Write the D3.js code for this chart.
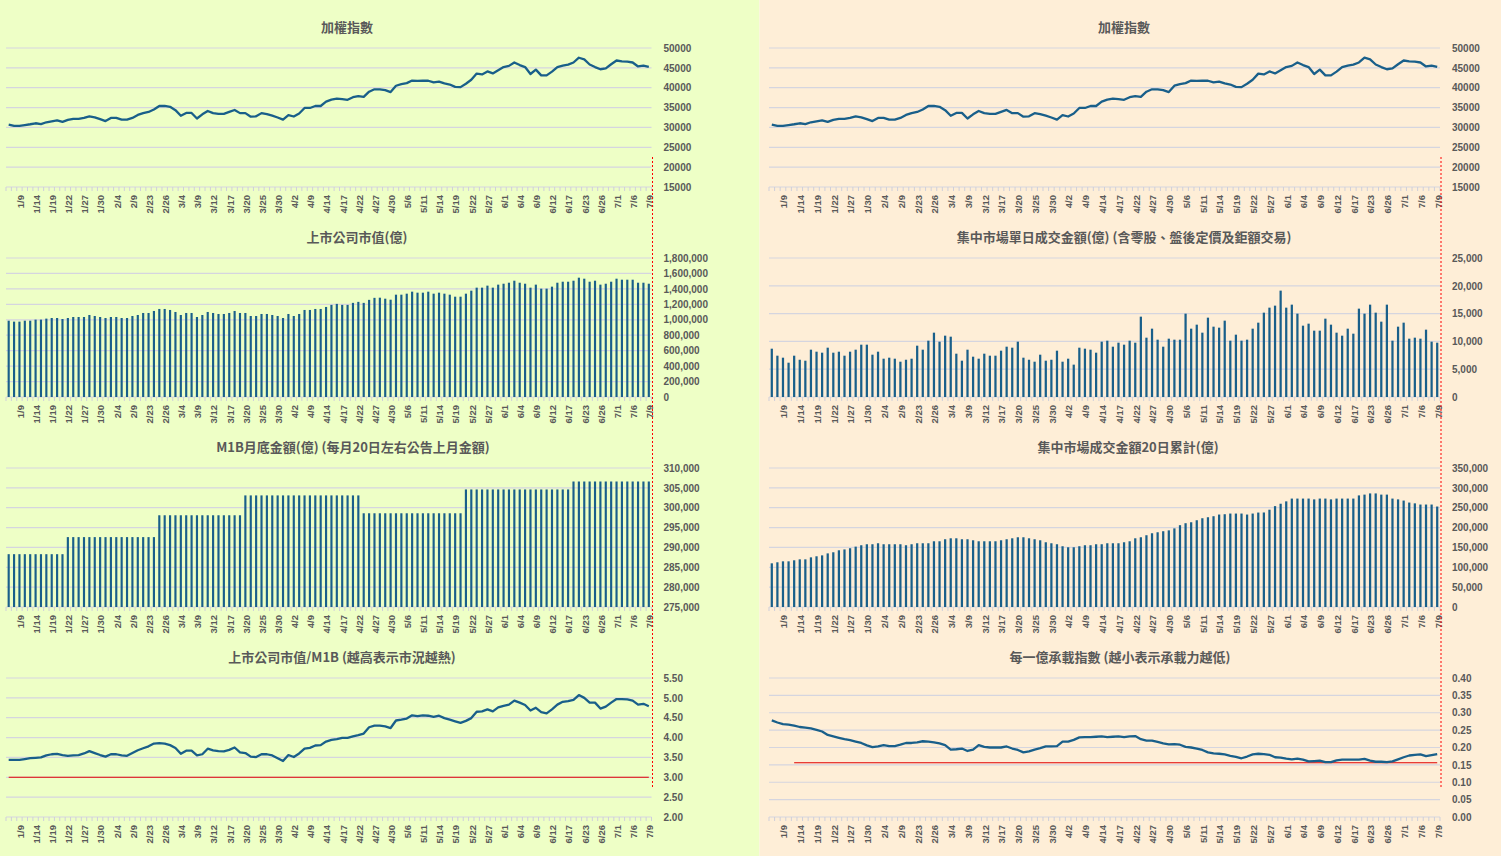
<!DOCTYPE html>
<html><head><meta charset="utf-8">
<script src="https://cdn.jsdelivr.net/npm/d3@7"></script>
<style>body{margin:0;overflow:hidden} svg{display:block}</style>
</head><body><svg id="c" width="1501" height="856"></svg>
<script>
const categories = ["1/7","1/8","1/9","1/12","1/13","1/14","1/15","1/16","1/19","1/20",
"1/21","1/22","1/23","1/26","1/27","1/28","1/29","1/30","2/2","2/3",
"2/4","2/5","2/6","2/9","2/10","2/11","2/23","2/24","2/25","2/26",
"3/2","3/3","3/4","3/5","3/6","3/9","3/10","3/11","3/12","3/13",
"3/16","3/17","3/18","3/19","3/20","3/23","3/24","3/25","3/26","3/27",
"3/30","3/31","4/1","4/2","4/7","4/8","4/9","4/10","4/13","4/14",
"4/15","4/16","4/17","4/20","4/21","4/22","4/23","4/24","4/27","4/28",
"4/29","4/30","5/4","5/5","5/6","5/7","5/8","5/11","5/12","5/13",
"5/14","5/15","5/18","5/19","5/20","5/21","5/22","5/25","5/26","5/27",
"5/28","5/29","6/1","6/2","6/3","6/4","6/5","6/8","6/9","6/10",
"6/11","6/12","6/15","6/16","6/17","6/18","6/22","6/23","6/24","6/25",
"6/26","6/29","6/30","7/1","7/2","7/3","7/6","7/7","7/8","7/9"];

// 加權指數
const taiex = [30700,30400,30400,30600,30800,31050,30850,31300,31550,31800,
31400,31900,32150,32150,32400,32800,32550,32100,31600,32400,
32400,31950,31950,32400,33150,33600,33900,34500,35400,35400,
35200,34350,32950,33650,33650,32250,33300,34150,33600,33400,
33400,33900,34400,33600,33600,32700,32800,33600,33350,32950,
32500,31950,33100,32750,33500,34900,34900,35400,35400,36500,
37000,37250,37100,36950,37600,37900,37700,39000,39600,39600,
39400,38900,40500,40900,41150,41800,41700,41800,41750,41350,
41550,41100,40800,40200,40150,41000,42000,43550,43350,44100,
43600,44400,45200,45500,46350,45700,45200,43450,44550,43100,
43100,44050,45200,45550,45800,46350,47550,47150,45850,45200,
44650,44850,45900,46850,46650,46550,46350,45350,45550,45250];

// 上市公司市值(億)
const marketCap = [988000,976000,976000,988000,988000,1002000,1002000,1015000,1023000,1023000,
1010000,1023000,1036000,1036000,1036000,1062000,1049000,1036000,1023000,1036000,
1036000,1023000,1023000,1049000,1062000,1088000,1088000,1114000,1140000,1140000,
1127000,1101000,1062000,1088000,1088000,1036000,1062000,1101000,1088000,1075000,
1075000,1088000,1114000,1088000,1088000,1049000,1049000,1075000,1075000,1062000,
1049000,1023000,1075000,1049000,1075000,1127000,1127000,1140000,1140000,1166000,
1193000,1206000,1193000,1193000,1219000,1232000,1219000,1258000,1284000,1286000,
1273000,1260000,1325000,1325000,1338000,1364000,1351000,1351000,1364000,1338000,
1351000,1338000,1325000,1299000,1299000,1338000,1377000,1416000,1416000,1442000,
1416000,1455000,1467000,1480000,1506000,1480000,1467000,1416000,1455000,1403000,
1403000,1429000,1480000,1493000,1493000,1506000,1545000,1532000,1493000,1506000,
1455000,1467000,1493000,1532000,1519000,1519000,1519000,1480000,1480000,1467000];

// M1B月底金額(億)
const m1b = [288300,288300,288300,288300,288300,288300,288300,288300,288300,288300,
288300,292600,292600,292600,292600,292600,292600,292600,292600,292600,
292600,292600,292600,292600,292600,292600,292600,292600,298100,298100,
298100,298100,298100,298100,298100,298100,298100,298100,298100,298100,
298100,298100,298100,298100,303100,303100,303100,303100,303100,303100,
303100,303100,303100,303100,303100,303100,303100,303100,303100,303100,
303100,303100,303100,303100,303100,303100,298600,298600,298600,298600,
298600,298600,298600,298600,298600,298600,298600,298600,298600,298600,
298600,298600,298600,298600,298600,304600,304600,304600,304600,304600,
304600,304600,304600,304600,304600,304600,304600,304600,304600,304600,
304600,304600,304600,304600,304600,306600,306600,306600,306600,306600,
306600,306600,306600,306600,306600,306600,306600,306600,306600,306600];

// 上市公司市值/M1B
const capM1bRatio = [3.44,3.44,3.44,3.46,3.48,3.49,3.50,3.55,3.58,3.59,
3.56,3.54,3.55,3.56,3.60,3.66,3.61,3.56,3.52,3.58,
3.58,3.55,3.54,3.61,3.68,3.73,3.78,3.85,3.86,3.85,
3.81,3.74,3.59,3.67,3.67,3.55,3.58,3.72,3.68,3.66,
3.65,3.69,3.75,3.63,3.61,3.52,3.51,3.58,3.58,3.55,
3.48,3.41,3.56,3.51,3.60,3.72,3.74,3.80,3.81,3.90,
3.94,3.96,3.99,3.99,4.03,4.06,4.10,4.26,4.30,4.30,
4.28,4.24,4.43,4.45,4.48,4.56,4.54,4.56,4.55,4.52,
4.55,4.49,4.45,4.41,4.37,4.42,4.49,4.65,4.66,4.71,
4.66,4.76,4.80,4.83,4.93,4.88,4.82,4.68,4.75,4.64,
4.61,4.71,4.83,4.90,4.92,4.95,5.07,5.00,4.88,4.88,
4.73,4.78,4.88,4.97,4.97,4.96,4.93,4.83,4.85,4.79];

// 集中市場單日成交金額(億)
const dailyTurnover = [8690,7430,7070,6170,7430,6700,6530,8510,8150,7970,
8870,7970,8150,7430,8150,8510,9410,9410,7610,8150,
6890,7070,6890,6350,6700,6890,9230,8510,10130,11570,
9950,11030,10850,7790,6530,8510,7250,6890,7790,7430,
7430,8330,9050,8870,9950,7070,6700,6350,7610,6530,
6700,8330,6350,6890,5820,8870,8690,8510,7970,9950,
10130,9050,9770,9410,10130,9770,14450,10670,12290,10310,
9050,10490,10310,10310,14990,12290,13010,11570,14270,12650,
12470,13730,10130,11210,10130,10310,12290,13370,15170,16070,
16430,19130,16070,16610,14990,12830,13190,11930,11930,14090,
13010,11570,11030,12290,11390,15890,14990,16610,15170,13550,
16610,10130,12650,13370,10490,10670,10490,12110,9950,9770];

// 集中市場成交金額20日累計(億)
const turnover20d = [110000,112600,115000,115000,117600,120000,120000,125000,127700,130000,
135000,137800,142800,145000,148000,152000,155500,158000,158000,160500,
158000,158000,158000,158000,155500,158000,160500,160500,160500,165500,
165500,170600,173000,173000,170600,170600,168000,165500,165500,165500,
165500,168000,170600,173000,175600,175600,173000,170600,168000,163000,
160500,158000,153000,150400,150400,153000,155500,155500,158000,158000,
160500,160500,160500,163000,165500,173000,175600,180700,185700,188200,
190800,193000,198000,206000,211000,213400,218500,223500,226000,228600,
232800,233600,235300,235300,235300,232800,235300,237800,238000,245000,
254000,260000,266000,273000,273000,273000,273000,271000,273000,273000,
271000,273000,273000,273000,273000,281000,283000,286000,286000,283000,
283000,273000,271000,268000,263000,261000,258000,258000,258000,253000];

// 每一億承載指數
const loadIndex = [0.278,0.272,0.267,0.266,0.263,0.259,0.257,0.255,0.251,0.246,
0.236,0.232,0.228,0.224,0.221,0.217,0.213,0.206,0.201,0.203,
0.207,0.204,0.204,0.208,0.213,0.213,0.215,0.218,0.217,0.215,
0.212,0.207,0.194,0.195,0.197,0.190,0.194,0.207,0.202,0.200,
0.200,0.200,0.203,0.197,0.193,0.186,0.189,0.194,0.198,0.203,
0.203,0.204,0.217,0.217,0.222,0.229,0.230,0.230,0.231,0.232,
0.230,0.231,0.232,0.230,0.232,0.233,0.224,0.220,0.220,0.216,
0.212,0.209,0.210,0.208,0.202,0.200,0.197,0.193,0.186,0.183,
0.182,0.180,0.176,0.173,0.169,0.174,0.180,0.182,0.181,0.179,
0.172,0.171,0.168,0.166,0.168,0.165,0.160,0.161,0.162,0.158,
0.158,0.163,0.165,0.165,0.165,0.165,0.167,0.162,0.159,0.159,
0.158,0.160,0.166,0.172,0.177,0.179,0.180,0.175,0.178,0.181];

// tick labels
const taiexTicks = [15000,20000,25000,30000,35000,40000,45000,50000];
const capTicks = [0,200000,400000,600000,800000,1000000,1200000,1400000,1600000,1800000];
const m1bTicks = [275000,280000,285000,290000,295000,300000,305000,310000];
const ratioTicks = [2.0,2.5,3.0,3.5,4.0,4.5,5.0,5.5];
const dailyTicks = [0,5000,10000,15000,20000,25000];
const cumTicks = [0,50000,100000,150000,200000,250000,300000,350000];
const loadTicks = [0,0.05,0.10,0.15,0.20,0.25,0.30,0.35,0.40];

const titles = ["加權指數","上市公司市值(億)","M1B月底金額(億) (每月20日左右公告上月金額)","上市公司市值/M1B (越高表示市況越熱)",
  "加權指數","集中市場單日成交金額(億) (含零股、盤後定價及鉅額交易)","集中市場成交金額20日累計(億)","每一億承載指數 (越小表示承載力越低)"];
const refLevels = [3.0, 0.156];

// ---------- layout ----------
const svg = d3.select('#c');
const W = 1501, H = 856;
svg.append('rect').attr('x',0).attr('y',0).attr('width',759.5).attr('height',H).attr('fill','#eeffc6');
svg.append('rect').attr('x',759.5).attr('y',0).attr('width',W-759.5).attr('height',H).attr('fill','#feeed7');

const cols = [{x0:6, x1:651.5}, {x0:769, x1:1440}];
const rows = [{y0:48,y1:187,ty:32},{y0:258,y1:397,ty:242},{y0:468,y1:607,ty:452},{y0:678,y1:817,ty:662}];
const titleX = [347,357,353,342,1124,1124,1128,1120];

const fmtInt = d3.format('d'), fmtComma = d3.format(','), fmt2 = d3.format('.2f');
const panels = [
  {c:0,r:0,type:'line',data:taiex,ticks:taiexTicks,fmt:fmtInt},
  {c:0,r:1,type:'bar',data:marketCap,ticks:capTicks,fmt:fmtComma},
  {c:0,r:2,type:'bar',data:m1b,ticks:m1bTicks,fmt:fmtComma},
  {c:0,r:3,type:'line',data:capM1bRatio,ticks:ratioTicks,fmt:fmt2,ref:{v:refLevels[0],from:0,to:119}},
  {c:1,r:0,type:'line',data:taiex,ticks:taiexTicks,fmt:fmtInt},
  {c:1,r:1,type:'bar',data:dailyTurnover,ticks:dailyTicks,fmt:fmtComma},
  {c:1,r:2,type:'bar',data:turnover20d,ticks:cumTicks,fmt:fmtComma},
  {c:1,r:3,type:'line',data:loadIndex,ticks:loadTicks,fmt:fmt2,ref:{v:refLevels[1],from:4,to:119}},
];

const TEXT = '#595959', GRID = '#d5d5df', BLUE = '#195f8a';
const labelCats = categories.filter((d,i)=> i%3===2);

panels.forEach((p,k)=>{
  const col = cols[p.c], row = rows[p.r];
  const g = svg.append('g');
  const x = d3.scaleBand().domain(categories).range([col.x0,col.x1]).padding(0);
  const bw = x.bandwidth();
  const cx = (i)=> x(categories[i]) + bw/2;
  const y = d3.scaleLinear().domain([p.ticks[0], p.ticks[p.ticks.length-1]]).range([row.y1,row.y0]);

  // gridlines
  g.append('g').selectAll('line').data(p.ticks).join('line')
    .attr('x1',col.x0).attr('x2',col.x1)
    .attr('y1',d=>y(d)).attr('y2',d=>y(d))
    .attr('stroke',GRID).attr('stroke-width',1.2);

  // category tick marks
  g.append('g').selectAll('line').data(d3.range(categories.length+1)).join('line')
    .attr('x1',i=>col.x0+i*bw).attr('x2',i=>col.x0+i*bw)
    .attr('y1',row.y1).attr('y2',row.y1+4)
    .attr('stroke','#cfcfda').attr('stroke-width',1);

  // y axis (right)
  const ya = g.append('g').attr('transform',`translate(${col.x1},0)`)
    .call(d3.axisRight(y).tickValues(p.ticks).tickFormat(p.fmt).tickSize(0).tickPadding(12));
  ya.select('.domain').remove();
  ya.selectAll('text').attr('fill',TEXT).style('font-family','"Liberation Sans", Arial, sans-serif')
    .style('font-weight','bold').style('font-size','10px');

  // x axis
  const xa = g.append('g').attr('transform',`translate(0,${row.y1})`)
    .call(d3.axisBottom(x).tickValues(labelCats).tickSize(0).tickPadding(0));
  xa.select('.domain').remove();
  xa.selectAll('text').attr('transform','rotate(-90)').attr('x',-8).attr('y',1).attr('dy','0.35em')
    .style('text-anchor','end').attr('fill',TEXT)
    .style('font-family','"Liberation Sans", Arial, sans-serif').style('font-weight','bold').style('font-size','9.5px');

  // marks
  if(p.type==='bar'){
    const barW = bw*0.4;
    g.append('g').selectAll('rect').data(p.data).join('rect')
      .attr('x',(d,i)=>cx(i)-barW/2).attr('width',barW)
      .attr('y',d=>y(d)).attr('height',d=>row.y1-y(d))
      .attr('fill',BLUE);
  } else {
    if(p.ref){
      g.append('line').attr('x1',cx(p.ref.from)).attr('x2',cx(p.ref.to))
        .attr('y1',y(p.ref.v)).attr('y2',y(p.ref.v))
        .attr('stroke','#e00000').attr('stroke-width',1.1);
    }
    const line = d3.line().x((d,i)=>cx(i)).y(d=>y(d));
    g.append('path').datum(p.data).attr('d',line).attr('fill','none')
      .attr('stroke',BLUE).attr('stroke-width',2.3).attr('stroke-linejoin','round');
  }

  // title
  svg.append('text').attr('x',titleX[k]).attr('y',row.ty).attr('text-anchor','middle')
    .attr('fill',TEXT).style('font-family','"Noto Sans CJK TC", "Noto Sans", sans-serif')
    .style('font-weight','bold').style('font-size','13px').text(titles[k]);
});

// red dotted "today" markers
cols.forEach(col=>{
  svg.append('line').attr('x1',col.x1+1).attr('x2',col.x1+1).attr('y1',157).attr('y2',787)
    .attr('stroke','#ff0000').attr('stroke-width',1).attr('stroke-dasharray','2,2');
});
</script>
</body></html>
